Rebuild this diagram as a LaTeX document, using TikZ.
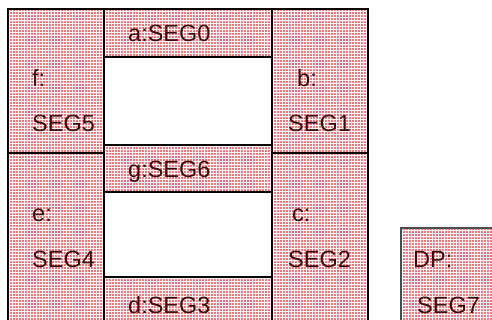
\documentclass[tikz,border=0pt]{standalone}
\usepackage{fontspec}
\setmainfont{Liberation Sans}
\usetikzlibrary{patterns}
\definecolor{segfill}{RGB}{248,118,122}
\definecolor{segtext}{RGB}{60,10,10}
\begin{document}
\begin{tikzpicture}[x=1pt,y=-1pt,
  seg/.style={fill=segfill, postaction={pattern=grid, pattern color=white, fill opacity=0.55}},
  segline/.style={draw=black, line width=1.5pt},
  dpline/.style={draw=black!70, line width=1.1pt},
  lbl/.style={anchor=base west, inner sep=0pt, text=segtext, font=\fontsize{23.5}{28}\selectfont}]
\useasboundingbox (0,0) rectangle (492,320);
\clip (0,0) rectangle (492,320);
% fills
\path[seg] (8,9) rectangle (104,153);     % f
\path[seg] (104,9) rectangle (272,57);    % a
\path[seg] (272,9) rectangle (368,153);   % b
\path[seg] (104,145) rectangle (272,192); % g
\path[seg] (8,153) rectangle (104,340);   % e
\path[seg] (272,153) rectangle (368,340); % c
\path[seg] (104,277) rectangle (272,330); % d
\path[seg] (401,228) rectangle (500,340); % DP
% outlines
\path[segline] (8,9) rectangle (104,153);
\path[segline] (104,9) rectangle (272,57);
\path[segline] (272,9) rectangle (368,153);
\path[segline] (104,145) rectangle (272,192);
\path[segline] (8,153) rectangle (104,340);
\path[segline] (272,153) rectangle (368,340);
\path[segline] (104,277) rectangle (272,330);
\path[dpline] (401,228) rectangle (500,340);
% labels
\node[lbl] (la) at (128,42) {a:SEG0};
\node[lbl] (lf1) at (32,87) {f:};
\node[lbl] (lf2) at (32,132) {SEG5};
\node[lbl] (lb1) at (297,87) {b:};
\node[lbl] (lb2) at (288,132) {SEG1};
\node[lbl] (lg) at (128,178) {g:SEG6};
\node[lbl] (le1) at (32,222) {e:};
\node[lbl] (le2) at (32,267) {SEG4};
\node[lbl] (lc1) at (292,222) {c:};
\node[lbl] (lc2) at (288,267) {SEG2};
\node[lbl] (ld) at (128,313) {d:SEG3};
\node[lbl] (ldp1) at (413,267) {DP:};
\node[lbl] (ldp2) at (417,313) {SEG7};
\end{tikzpicture}
\end{document}
